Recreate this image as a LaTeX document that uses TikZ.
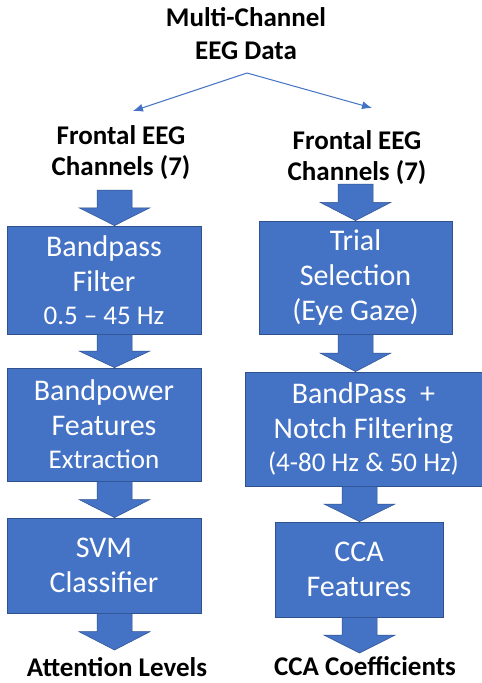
\documentclass[tikz,border=0pt]{standalone}
\usepackage{fontspec}
\setmainfont{Carlito}
\usetikzlibrary{arrows.meta,calc}
\definecolor{obl}{HTML}{4472C4}
\definecolor{obd}{HTML}{2F528F}
\tikzset{
  box/.style={draw=obd, line width=0.8pt, fill=obl, text=white, align=center, inner sep=0pt, font=\fontsize{30}{35}\selectfont},
  title/.style={align=center, font=\bfseries\fontsize{27}{33}\selectfont, inner sep=0pt},
  barrowstyle/.style={fill=obl, draw=obd, line width=0.5pt},
  thin/.style={draw=obl, line width=1pt, -{Latex[length=10pt,width=8pt]}}
}
% block arrow: #1 start point, #2 end point, #3 x centre
\newcommand\barrow[3]{%
  \path[barrowstyle] let \p1=#1, \p2=#2, \n1={(\y1+\y2)/2} in
   (#3-17.5,\y1) -- (#3+17.5,\y1) -- (#3+17.5,\n1) -- (#3+35.5,\n1) -- (#3,\y2)
   -- (#3-35.5,\n1) -- (#3-17.5,\n1) -- cycle;}
\begin{document}
\begin{tikzpicture}[x=1pt,y=-1pt]
\useasboundingbox (0,0) rectangle (482,683);
\fill[white] (0,0) rectangle (482,683);
% top
\node[title] (top) at (246,34) {Multi-Channel\\EEG Data};
\coordinate (split) at (247,73);
\coordinate (lend) at (133,111);
\coordinate (rend) at (372,108);
\node[title, font=\bfseries\fontsize{27}{31}\selectfont] (lt) at (121,153) {Frontal EEG\\Channels (7)};
\node[title, font=\bfseries\fontsize{27}{31}\selectfont] (rt) at (357,158) {Frontal EEG\\Channels (7)};
\draw[thin] (split) -- (lend);
\draw[thin] (split) -- (rend);
% left column
\node[box, minimum width=194, minimum height=108] (b1) at (104,280) {Bandpass\\Filter\\[-2pt]{\fontsize{27}{32}\selectfont 0.5 – 45 Hz}};
\node[box, minimum width=194, minimum height=113] (b2) at (104,424.5) {Bandpower\\Features\\[-2pt]{\fontsize{27}{32}\selectfont Extraction}};
\node[box, minimum width=194, minimum height=95] (b3) at (104,565.5) {SVM\\Classifier};
\coordinate (ltop) at (114.5,190);
\coordinate (lbot) at (114.5,650);
\node[title] (att) at (117,667.5) {Attention Levels};
% right column
\node[box, minimum width=193, minimum height=113] (r1) at (355.5,277.5) {Trial\\Selection\\(Eye Gaze)};
\node[box, minimum width=237, minimum height=114] (r2) at (363.5,429) {BandPass\ \ +\\Notch Filtering\\[-2pt]{\fontsize{27}{32}\selectfont (4-80 Hz \& 50 Hz)}};
\node[box, minimum width=168, minimum height=95] (r3) at (359,569.5) {CCA\\Features};
\coordinate (rtop) at (355.5,184);
\coordinate (rbot) at (359.5,653);
\node[title] (cca) at (365,666) {CCA Coefficients};
% block arrows
\barrow{(ltop)}{(b1.north)}{114.5}
\barrow{(b1.south)}{(b2.north)}{114.5}
\barrow{(b2.south)}{(b3.north)}{114.5}
\barrow{(b3.south)}{(lbot)}{114.5}
\barrow{(rtop)}{(r1.north)}{355.5}
\barrow{(r1.south)}{(r2.north)}{355.5}
\barrow{(r2.south)}{(r3.north)}{359.5}
\barrow{(r3.south)}{(rbot)}{359.5}
\end{tikzpicture}
\end{document}
